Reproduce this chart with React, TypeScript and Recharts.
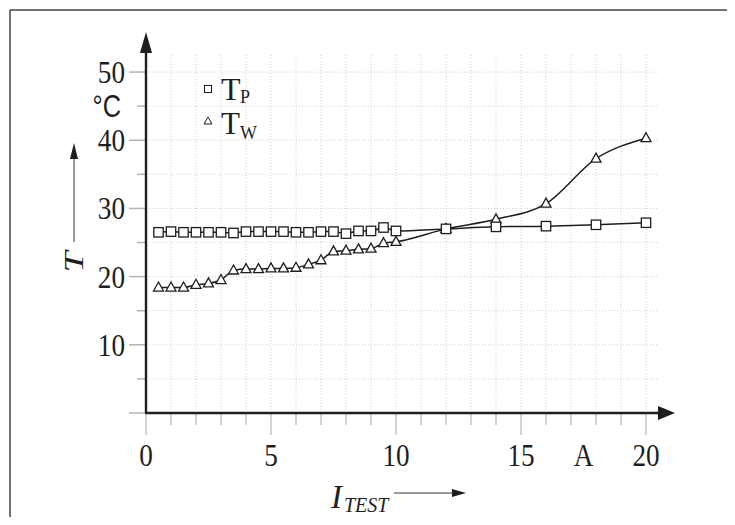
import React from "react";
import { LineChart, Line, XAxis, YAxis, CartesianGrid } from "recharts";

// test current in A
const currents = [0.5, 1, 1.5, 2, 2.5, 3, 3.5, 4, 4.5, 5, 5.5, 6, 6.5, 7, 7.5, 8, 8.5, 9, 9.5, 10, 12, 14, 16, 18, 20];
// T_P in °C
const tempP = [26.5, 26.6, 26.5, 26.5, 26.5, 26.5, 26.4, 26.6, 26.6, 26.6, 26.6, 26.5, 26.5, 26.6, 26.6, 26.3, 26.7, 26.7, 27.2, 26.7, 27.0, 27.3, 27.4, 27.6, 27.9];
// T_W in °C
const tempW = [18.4, 18.4, 18.4, 18.8, 19.0, 19.5, 20.9, 21.1, 21.1, 21.2, 21.2, 21.3, 21.8, 22.4, 23.7, 23.8, 24.0, 24.1, 24.9, 25.1, 27.0, 28.4, 30.7, 37.3, 40.3];

const xTicks = [0, 1, 2, 3, 4, 5, 6, 7, 8, 9, 10, 11, 12, 13, 14, 15, 16, 17, 17.5, 18, 19, 20];
const xLabels: Record<number, string> = { 0: "0", 5: "5", 10: "10", 15: "15", 17.5: "A", 20: "20" };
const yTicks = [0, 5, 10, 15, 20, 25, 30, 35, 40, 45, 50];
const yLabels: Record<number, string> = { 10: "10", 20: "20", 30: "30", 40: "40", 50: "50" };
const gridX = [1, 2, 3, 4, 5, 6, 7, 8, 9, 10, 11, 12, 13, 14, 15, 16, 17, 18, 19, 20];
const gridY = [5, 10, 15, 20, 25, 30, 35, 40, 45, 50];

const data = currents.map((x, i) => ({ x, tp: tempP[i], tw: tempW[i] }));

const W = 735;
const H = 525;
const LEFT = 146;
const TOP = 55;
const BOTTOM = 413;
const RIGHT = 658.5;

const serif = "'Liberation Serif', 'Times New Roman', serif";
const ink = "#1e1e1e";

const XTick = (props: any) => {
  const { x, y, payload } = props;
  const v = payload.value as number;
  const label = xLabels[v];
  const isA = v === 17.5;
  return (
    <g>
      {!isA && <line x1={x} x2={x} y1={y} y2={y + (v % 5 === 0 ? 22 : 12)} stroke="#c4c4c4" strokeWidth={1.5} />}
      {label && (
        <g transform={`translate(${x},${y + 53}) scale(0.85,1)`}>
          <text textAnchor="middle" fontFamily={serif} fontSize={32} fill={ink}>{label}</text>
        </g>
      )}
    </g>
  );
};

const YTick = (props: any) => {
  const { x, y, payload } = props;
  const v = payload.value as number;
  const label = yLabels[v];
  return (
    <g>
      <line x1={x - (v % 10 === 0 ? 17 : 9)} x2={x} y1={y} y2={y} stroke="#b4b4b4" strokeWidth={1.5} />
      {label && (
        <g transform={`translate(${x - 21},${y + 11}) scale(0.85,1)`}>
          <text textAnchor="end" fontFamily={serif} fontSize={32} fill={ink}>{label}</text>
        </g>
      )}
    </g>
  );
};

const SquareDot = ({ cx, cy }: any) => (
  <rect x={cx - 4.7} y={cy - 4.7} width={9.4} height={9.4} fill="#fff" stroke={ink} strokeWidth={1.3} />
);

const TriDot = ({ cx, cy }: any) => (
  <polygon points={`${cx},${cy - 5.5} ${cx + 5},${cy + 3.5} ${cx - 5},${cy + 3.5}`} fill="#fff" stroke={ink} strokeWidth={1.3} />
);

export default function App() {
  return (
    <div style={{ position: "relative", width: W, height: H, margin: -8, background: "#fff" }}>
      <LineChart
        width={W}
        height={H}
        data={data}
        margin={{ top: TOP, right: W - RIGHT, bottom: 0, left: 0 }}
      >
        <CartesianGrid
          stroke="#cfcfcf"
          strokeDasharray="1 2"
          verticalValues={gridX}
          horizontalValues={gridY}
        />
        <XAxis
          dataKey="x"
          type="number"
          domain={[0, 20.5]}
          ticks={xTicks}
          interval={0}
          height={H - BOTTOM}
          axisLine={false}
          tickLine={false}
          tickSize={0}
          tickMargin={0}
          tick={<XTick />}
        />
        <YAxis
          type="number"
          domain={[0, 52.5]}
          ticks={yTicks}
          interval={0}
          width={LEFT}
          axisLine={false}
          tickLine={false}
          tickSize={0}
          tickMargin={0}
          tick={<YTick />}
        />
        <Line
          dataKey="tw"
          name="TW"
          type="monotone"
          stroke={ink}
          strokeWidth={1.5}
          isAnimationActive={false}
          dot={(p: any) => <TriDot key={`tw-${p.index}`} cx={p.cx} cy={p.cy} />}
        />
        <Line
          dataKey="tp"
          name="TP"
          type="monotone"
          stroke={ink}
          strokeWidth={1.5}
          isAnimationActive={false}
          dot={(p: any) => <SquareDot key={`tp-${p.index}`} cx={p.cx} cy={p.cy} />}
        />
      </LineChart>
      <svg
        width={W}
        height={H}
        style={{ position: "absolute", left: 0, top: 0, pointerEvents: "none" }}
      >
        {/* frame */}
        <line x1={10} y1={10} x2={W} y2={10} stroke="#444" strokeWidth={1.5} />
        <line x1={10} y1={10} x2={10} y2={H} stroke="#444" strokeWidth={1.5} />
        {/* axes with arrows */}
        <line x1={LEFT} y1={BOTTOM} x2={LEFT} y2={48} stroke={ink} strokeWidth={2.4} />
        <polygon points={`${LEFT - 6},53 ${LEFT + 6},53 ${LEFT},32`} fill={ink} />
        <line x1={LEFT - 1} y1={BOTTOM} x2={662} y2={BOTTOM} stroke={ink} strokeWidth={2.4} />
        <polygon points={`658,406 658,420 675,${BOTTOM}`} fill={ink} />
        {/* legend */}
        <rect x={204.5} y={85.5} width={7} height={7} fill="#fff" stroke={ink} strokeWidth={1} />
        <text x={221} y={100} fontFamily={serif} fontSize={32} fill={ink}>T</text>
        <text x={240} y={103} fontFamily={serif} fontSize={18} fill={ink}>P</text>
        <polygon points="208,117 212,124 204,124" fill="#fff" stroke={ink} strokeWidth={1} />
        <text x={221} y={134} fontFamily={serif} fontSize={31} fill={ink}>T</text>
        <text x={240} y={139} fontFamily={serif} fontSize={18} fill={ink}>W</text>
        {/* unit */}
        <g transform="translate(121,117) scale(0.82,1)">
          <text textAnchor="end" fontFamily="'Liberation Sans', Arial, sans-serif" fontSize={31} fill={ink}>°C</text>
        </g>
        {/* y label */}
        <line x1={74} y1={242} x2={74} y2={156} stroke="#333" strokeWidth={1} />
        <polygon points="70,159 78,159 74,143" fill={ink} />
        <g transform="translate(83,262) rotate(-90) scale(1.4,1)">
          <text textAnchor="middle" fontFamily={serif} fontStyle="italic" fontSize={27} fill={ink}>T</text>
        </g>
        {/* x label */}
        <text x={331} y={508} fontFamily={serif} fontStyle="italic" fontSize={33} fill={ink}>I</text>
        <text x={344} y={512} fontFamily={serif} fontStyle="italic" fontSize={20} fill={ink}>TEST</text>
        <line x1={394} y1={493} x2={456} y2={493} stroke="#333" strokeWidth={1} />
        <polygon points="452,489 452,497 466,493" fill={ink} />
      </svg>
    </div>
  );
}
